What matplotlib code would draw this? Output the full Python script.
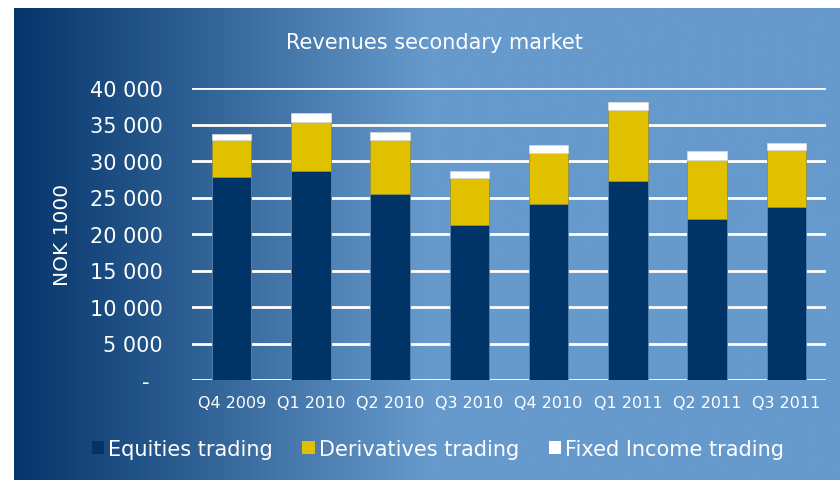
import numpy as np
import matplotlib
matplotlib.use("Agg")
import matplotlib.pyplot as plt
from matplotlib.patches import Patch

categories = ["Q4 2009", "Q1 2010", "Q2 2010", "Q3 2010", "Q4 2010", "Q1 2011", "Q2 2011", "Q3 2011"]
equities = [27770, 28580, 25430, 21280, 24110, 27220, 22050, 23650]
derivatives = [5110, 6710, 7440, 6350, 6990, 9820, 8130, 7900]
fixed_income = [820, 1230, 1140, 1050, 1100, 1050, 1140, 910]
series_names = ["Equities trading", "Derivatives trading", "Fixed Income trading"]
yticks = [0, 5000, 10000, 15000, 20000, 25000, 30000, 35000, 40000]
ytick_labels = ["-  ", "5 000", "10 000", "15 000", "20 000", "25 000", "30 000", "35 000", "40 000"]

navy = "#003366"
yellow = "#E1C000"
white = "#FFFFFF"

W, H = 840, 481
fig = plt.figure(figsize=(W / 100, H / 100), dpi=100)
fig.patch.set_facecolor("white")

# gradient panel background
bg = fig.add_axes([14 / W, 0, (W - 14) / W, (H - 9) / H], zorder=-1)
xs = np.linspace(0, 1, 800)
c0 = np.array([5, 53, 106]) / 255
c1 = np.array([102, 153, 204]) / 255
frac = np.clip(xs / 0.5, 0, 1)
grad = (c0[None, :] * (1 - frac[:, None]) + c1[None, :] * frac[:, None])
bg.imshow(grad[None, :, :], aspect="auto", extent=[0, 1, 0, 1])
bg.set_axis_off()

ax = fig.add_axes([192 / W, 1 - 381 / H, (826 - 192) / W, (381 - 89) / H])
ax.patch.set_alpha(0)
x = np.arange(len(categories))
bw = 0.5
eq = np.array(equities)
de = np.array(derivatives)
fi = np.array(fixed_income)
ax.bar(x, eq, bw, color=navy, edgecolor="#5b86b5", linewidth=0.6, zorder=3, label=series_names[0])
ax.bar(x, de, bw, bottom=eq, color=yellow, edgecolor="#8a8a40", linewidth=0.5, zorder=3, label=series_names[1])
ax.bar(x, fi, bw, bottom=eq + de, color=white, edgecolor="#dddddd", linewidth=0.5, zorder=3, label=series_names[2])

ax.set_xlim(-0.5, len(categories) - 0.5)
ax.set_ylim(0, 40000)
ax.set_yticks(yticks)
ax.set_yticklabels(ytick_labels, fontsize=15, color="white")
ax.set_xticks(x)
ax.set_xticklabels(categories, fontsize=11.5, color="white")
ax.tick_params(axis="y", length=0, pad=21)
ax.tick_params(axis="x", length=0, pad=11)
for s in ax.spines.values():
    s.set_visible(False)
ax.yaxis.grid(True, color="white", linewidth=2, zorder=0)
ax.set_axisbelow(True)

fig.text(62 / W, 1 - 235 / H, "NOK 1000", rotation=90, color="white", fontsize=14.5,
         ha="center", va="center")
fig.text(434 / W, 1 - 43 / H, "Revenues secondary market", color="white", fontsize=15,
         ha="center", va="center")

handles = [Patch(facecolor=navy, edgecolor="none"),
           Patch(facecolor=yellow, edgecolor="none"),
           Patch(facecolor=white, edgecolor="none")]
leg = fig.legend(handles, series_names, loc="center", bbox_to_anchor=(438 / W, 1 - 450 / H),
                 ncol=3, frameon=False, fontsize=15, handlelength=0.6, handleheight=0.6,
                 handletextpad=0.2, columnspacing=1.4, borderaxespad=0)
for t in leg.get_texts():
    t.set_color("white")

fig.savefig("out.png", dpi=100, facecolor=fig.get_facecolor())
